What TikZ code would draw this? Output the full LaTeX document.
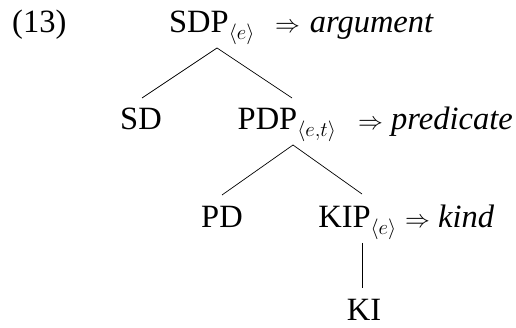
\documentclass[tikz,border=0pt]{standalone}
\usepackage{fontspec}
\setmainfont{Liberation Serif}
\begin{document}
\begin{tikzpicture}[x=1pt,y=1pt,
  lbl/.style={inner sep=0pt, anchor=base, font=\fontsize{32.5}{38}\selectfont},
  note/.style={inner sep=0pt, anchor=base west, font=\fontsize{32.5}{38}\selectfont},
  edge/.style={draw, line width=0.7pt}]
\useasboundingbox (0,0) rectangle (516,-328);
\node[note] (ex) at (12,-33) {(13)};
\node[lbl] (sdp) at (212,-33) {SDP$_{\langle e\rangle}$};
\node[note] (arg) at (275,-33) {$\Rightarrow$\hspace{0.3em}\textit{argument}};
\node[lbl] (sd) at (141,-130) {SD};
\node[lbl] (pdp) at (287,-130) {PDP$_{\langle e,t\rangle}$};
\node[note] (pred) at (358,-130) {$\Rightarrow$\hspace{0.25em}\textit{predicate}};
\node[lbl] (pd) at (222,-228) {PD};
\node[lbl] (kip) at (357.5,-228) {KIP$_{\langle e\rangle}$};
\node[note] (kind) at (405,-228) {$\Rightarrow$\hspace{0.25em}\textit{kind}};
\node[lbl] (ki) at (364,-320.5) {KI};
\path[edge] ([xshift=5pt,yshift=-15pt]sdp.base) -- ([xshift=1pt,yshift=32pt]sd.base);
\path[edge] ([xshift=5pt,yshift=-15pt]sdp.base) -- ([xshift=5pt,yshift=32pt]pdp.base);
\path[edge] ([xshift=6pt,yshift=-15pt]pdp.base) -- ([yshift=33pt]pd.base);
\path[edge] ([xshift=6pt,yshift=-15pt]pdp.base) -- ([xshift=4.5pt,yshift=34pt]kip.base);
\path[edge] ([xshift=4.5pt,yshift=-15pt]kip.base) -- ([xshift=-2pt,yshift=32pt]ki.base);
\end{tikzpicture}
\end{document}
